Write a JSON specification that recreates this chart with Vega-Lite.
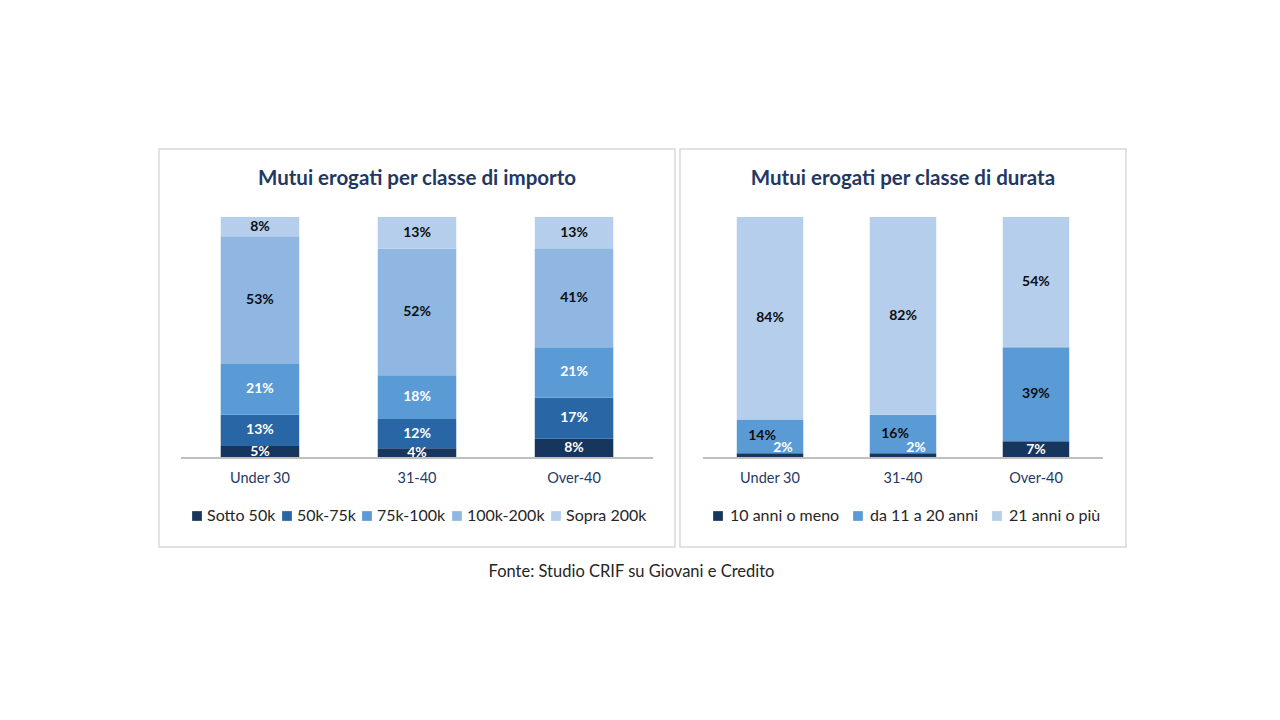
{
  "$schema": "https://vega.github.io/schema/vega-lite/v6.json",
  "background": "white",
  "padding": {"left": 158, "top": 148, "right": 0, "bottom": 0},
  "config": {
    "font": "Lato",
    "view": {"stroke": "#D9D9D9", "strokeWidth": 1.5},
    "concat": {"spacing": 3},
    "axisX": {
      "orient": "bottom",
      "offset": -89,
      "domain": false,
      "ticks": false,
      "labelPadding": 13,
      "labelFontSize": 14.5,
      "labelColor": "#1F3864",
      "labelAngle": 0,
      "title": null
    },
    "legend": {
      "orient": "none",
      "direction": "horizontal",
      "title": null,
      "symbolType": "square",
      "symbolSize": 95,
      "symbolStrokeWidth": 0,
      "labelFontSize": 16,
      "labelColor": "#262626",
      "legendX": 30,
      "legendY": 359
    }
  },
  "title": {
    "text": "Fonte: Studio CRIF su Giovani e Credito",
    "orient": "bottom",
    "anchor": "middle",
    "fontSize": 16.5,
    "fontWeight": "normal",
    "color": "#262626",
    "offset": 16,
    "dx": -11
  },
  "resolve": {"scale": {"color": "independent"}, "legend": {"color": "independent"}},
  "hconcat": [
    {
      "width": 516,
      "height": 398,
      "title": {
        "text": "Mutui erogati per classe di importo",
        "fontSize": 20.5,
        "fontWeight": "bold",
        "color": "#1F3864",
        "anchor": "middle",
        "frame": "group",
        "baseline": "alphabetic",
        "offset": -56
      },
      "data": {
        "values": [
          {"eta": "Under 30", "classe": "Sotto 50k", "quota": 0.05},
          {"eta": "Under 30", "classe": "50k-75k", "quota": 0.13},
          {"eta": "Under 30", "classe": "75k-100k", "quota": 0.21},
          {"eta": "Under 30", "classe": "100k-200k", "quota": 0.53},
          {"eta": "Under 30", "classe": "Sopra 200k", "quota": 0.08},
          {"eta": "31-40", "classe": "Sotto 50k", "quota": 0.04},
          {"eta": "31-40", "classe": "50k-75k", "quota": 0.12},
          {"eta": "31-40", "classe": "75k-100k", "quota": 0.18},
          {"eta": "31-40", "classe": "100k-200k", "quota": 0.52},
          {"eta": "31-40", "classe": "Sopra 200k", "quota": 0.13},
          {"eta": "Over-40", "classe": "Sotto 50k", "quota": 0.08},
          {"eta": "Over-40", "classe": "50k-75k", "quota": 0.17},
          {"eta": "Over-40", "classe": "75k-100k", "quota": 0.21},
          {"eta": "Over-40", "classe": "100k-200k", "quota": 0.41},
          {"eta": "Over-40", "classe": "Sopra 200k", "quota": 0.13}
        ]
      },
      "transform": [
        {"calculate": "indexof(['Sotto 50k','50k-75k','75k-100k','100k-200k','Sopra 200k'], datum.classe)", "as": "ord"},
        {"stack": "quota", "groupby": ["eta"], "sort": [{"field": "ord"}], "offset": "normalize", "as": ["y0", "y1"]},
        {"calculate": "(datum.y0 + datum.y1) / 2", "as": "ymid"}
      ],
      "encoding": {
        "x": {
          "field": "eta",
          "type": "nominal",
          "sort": ["Under 30", "31-40", "Over-40"],
          "scale": {"paddingInner": 0.5, "paddingOuter": 0.393}
        }
      },
      "layer": [
        {
          "mark": {"type": "bar"},
          "encoding": {
            "y": {"field": "y1", "type": "quantitative", "scale": {"domain": [-0.369, 1.282], "nice": false, "zero": false}, "axis": null},
            "y2": {"field": "y0"},
            "color": {
              "field": "classe",
              "type": "nominal",
              "scale": {
                "domain": ["Sotto 50k", "50k-75k", "75k-100k", "100k-200k", "Sopra 200k"],
                "range": ["#17365D", "#2866A6", "#5B9BD5", "#8FB7E2", "#B4CEEB"]
              },
              "legend": {"labelOffset": 2, "columnPadding": 3}
            }
          }
        },
        {
          "mark": {"type": "text", "fontSize": 14, "fontWeight": "bold", "baseline": "middle"},
          "encoding": {
            "y": {"field": "ymid", "type": "quantitative", "scale": {"domain": [-0.369, 1.282], "nice": false, "zero": false}, "axis": null},
            "text": {"field": "quota", "type": "quantitative", "format": ".0%"},
            "color": {
              "condition": {"test": "indexof(['Sotto 50k','50k-75k','75k-100k'], datum.classe) >= 0", "value": "white"},
              "value": "#0D0D0D"
            }
          }
        },
        {
          "mark": {"type": "rule", "color": "#BFBFBF", "strokeWidth": 1.5},
          "encoding": {
            "y": {"datum": 0, "type": "quantitative"},
            "x": {"datum": "Under 30", "bandPosition": -0.5},
            "x2": {"datum": "Over-40", "bandPosition": 1.5}
          }
        }
      ]
    },
    {
      "width": 446,
      "height": 398,
      "title": {
        "text": "Mutui erogati per classe di durata",
        "fontSize": 20.5,
        "fontWeight": "bold",
        "color": "#1F3864",
        "anchor": "middle",
        "frame": "group",
        "baseline": "alphabetic",
        "offset": -56
      },
      "data": {
        "values": [
          {"eta": "Under 30", "classe": "10 anni o meno", "quota": 0.02},
          {"eta": "Under 30", "classe": "da 11 a 20 anni", "quota": 0.14},
          {"eta": "Under 30", "classe": "21 anni o più", "quota": 0.84},
          {"eta": "31-40", "classe": "10 anni o meno", "quota": 0.02},
          {"eta": "31-40", "classe": "da 11 a 20 anni", "quota": 0.16},
          {"eta": "31-40", "classe": "21 anni o più", "quota": 0.82},
          {"eta": "Over-40", "classe": "10 anni o meno", "quota": 0.07},
          {"eta": "Over-40", "classe": "da 11 a 20 anni", "quota": 0.39},
          {"eta": "Over-40", "classe": "21 anni o più", "quota": 0.54}
        ]
      },
      "transform": [
        {"calculate": "indexof(['10 anni o meno','da 11 a 20 anni','21 anni o più'], datum.classe)", "as": "ord"},
        {"stack": "quota", "groupby": ["eta"], "sort": [{"field": "ord"}], "offset": "normalize", "as": ["y0", "y1"]},
        {"calculate": "(datum.y0 + datum.y1) / 2", "as": "ymid"}
      ],
      "encoding": {
        "x": {
          "field": "eta",
          "type": "nominal",
          "sort": ["Under 30", "31-40", "Over-40"],
          "scale": {"paddingInner": 0.5, "paddingOuter": 0.427}
        }
      },
      "layer": [
        {
          "mark": {"type": "bar"},
          "encoding": {
            "y": {"field": "y1", "type": "quantitative", "scale": {"domain": [-0.369, 1.282], "nice": false, "zero": false}, "axis": null},
            "y2": {"field": "y0"},
            "color": {
              "field": "classe",
              "type": "nominal",
              "scale": {
                "domain": ["10 anni o meno", "da 11 a 20 anni", "21 anni o più"],
                "range": ["#17365D", "#5B9BD5", "#B4CEEB"]
              },
              "legend": {"labelOffset": 4, "columnPadding": 10}
            }
          }
        },
        {
          "transform": [{"filter": "datum.quota >= 0.05 && !(datum.classe == 'da 11 a 20 anni' && datum.quota < 0.2)"}],
          "mark": {"type": "text", "fontSize": 14, "fontWeight": "bold", "baseline": "middle"},
          "encoding": {
            "y": {"field": "ymid", "type": "quantitative", "scale": {"domain": [-0.369, 1.282], "nice": false, "zero": false}, "axis": null},
            "text": {"field": "quota", "type": "quantitative", "format": ".0%"},
            "color": {
              "condition": {"test": "datum.classe == '10 anni o meno'", "value": "white"},
              "value": "#0D0D0D"
            }
          }
        },
        {
          "transform": [{"filter": "datum.classe == 'da 11 a 20 anni' && datum.quota < 0.2"}],
          "mark": {"type": "text", "fontSize": 14, "fontWeight": "bold", "baseline": "middle", "dx": -8, "color": "#0D0D0D"},
          "encoding": {
            "y": {"field": "ymid", "type": "quantitative", "scale": {"domain": [-0.369, 1.282], "nice": false, "zero": false}, "axis": null},
            "text": {"field": "quota", "type": "quantitative", "format": ".0%"}
          }
        },
        {
          "transform": [{"filter": "datum.quota < 0.05"}],
          "mark": {"type": "text", "fontSize": 14, "fontWeight": "bold", "baseline": "middle", "dx": 13, "dy": -8, "color": "white"},
          "encoding": {
            "y": {"field": "ymid", "type": "quantitative", "scale": {"domain": [-0.369, 1.282], "nice": false, "zero": false}, "axis": null},
            "text": {"field": "quota", "type": "quantitative", "format": ".0%"}
          }
        },
        {
          "mark": {"type": "rule", "color": "#BFBFBF", "strokeWidth": 1.5},
          "encoding": {
            "y": {"datum": 0, "type": "quantitative"},
            "x": {"datum": "Under 30", "bandPosition": -0.5},
            "x2": {"datum": "Over-40", "bandPosition": 1.5}
          }
        }
      ]
    }
  ]
}
